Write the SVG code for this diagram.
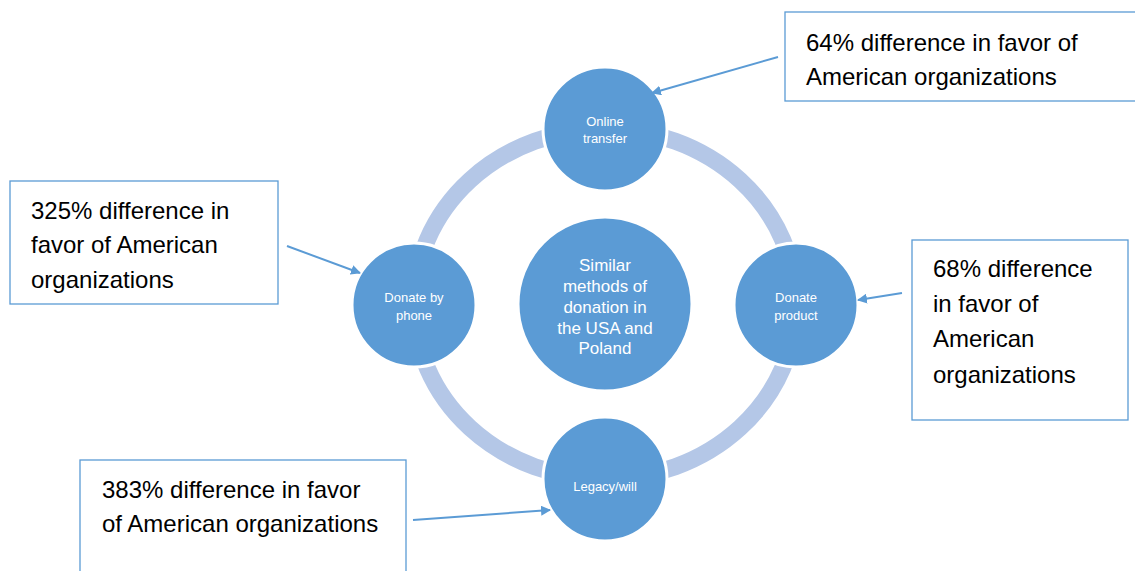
<svg xmlns="http://www.w3.org/2000/svg" width="1135" height="571" viewBox="0 0 1135 571">
  <defs>
    <marker id="arrow" markerWidth="10" markerHeight="10" refX="9" refY="5" orient="auto" markerUnits="userSpaceOnUse" viewBox="0 0 10 10">
      <path d="M0,0 L10,5 L0,10 Z" fill="#5b9bd5"/>
    </marker>
    <style>
      .node { fill: #5b9bd5; stroke: #ffffff; stroke-width: 3; }
      .ring { fill: none; stroke: #b4c7e7; stroke-width: 17; }
      .ntext { fill: #ffffff; font-family: "Liberation Sans", "Noto Sans", sans-serif; font-size: 13px; text-anchor: middle; }
      .ctext { fill: #ffffff; font-family: "Liberation Sans", "Noto Sans", sans-serif; font-size: 17px; text-anchor: middle; }
      .box { fill: #ffffff; stroke: #5b9bd5; stroke-width: 1.3; }
      .btext { fill: #000000; font-family: "Liberation Sans", "Noto Sans", sans-serif; font-size: 24px; }
      .conn { stroke: #5b9bd5; stroke-width: 2; fill: none; marker-end: url(#arrow); }
    </style>
  </defs>
  <rect width="1135" height="571" fill="#ffffff"/>

  <!-- cycle ring behind the nodes -->
  <ellipse class="ring" cx="605" cy="304" rx="191" ry="175"/>

  <g id="center">
    <circle class="node" cx="605" cy="304" r="87"/>
    <text class="ctext" x="605" y="271">Similar</text>
    <text class="ctext" x="605" y="292">methods of</text>
    <text class="ctext" x="605" y="313">donation in</text>
    <text class="ctext" x="605" y="334">the USA and</text>
    <text class="ctext" x="605" y="354">Poland</text>
  </g>

  <g id="online-transfer">
    <circle class="node" cx="605" cy="129" r="62"/>
    <text class="ntext" x="605" y="126">Online</text>
    <text class="ntext" x="605" y="143">transfer</text>
  </g>

  <g id="donate-phone">
    <circle class="node" cx="414" cy="305" r="62"/>
    <text class="ntext" x="414" y="302">Donate by</text>
    <text class="ntext" x="414" y="320">phone</text>
  </g>

  <g id="donate-product">
    <circle class="node" cx="796" cy="305" r="62"/>
    <text class="ntext" x="796" y="302">Donate</text>
    <text class="ntext" x="796" y="320">product</text>
  </g>

  <g id="legacy-will">
    <circle class="node" cx="605" cy="479" r="62"/>
    <text class="ntext" x="605" y="491">Legacy/will</text>
  </g>

  <g id="note-online">
    <rect class="box" x="785" y="12" width="360" height="89"/>
    <text class="btext" x="806" y="51">64% difference in favor of</text>
    <text class="btext" x="806" y="85">American organizations</text>
  </g>

  <g id="note-phone">
    <rect class="box" x="10" y="181" width="268" height="123"/>
    <text class="btext" x="31" y="219">325% difference in</text>
    <text class="btext" x="31" y="253">favor of American</text>
    <text class="btext" x="31" y="288">organizations</text>
  </g>

  <g id="note-product">
    <rect class="box" x="912" y="240" width="216" height="180"/>
    <text class="btext" x="933" y="277">68% difference</text>
    <text class="btext" x="933" y="312">in favor of</text>
    <text class="btext" x="933" y="347">American</text>
    <text class="btext" x="933" y="383">organizations</text>
  </g>

  <g id="note-legacy">
    <rect class="box" x="80" y="460" width="326" height="130"/>
    <text class="btext" x="102" y="498">383% difference in favor</text>
    <text class="btext" x="102" y="532">of American organizations</text>
  </g>

  <g id="connectors">
    <line class="conn" x1="778" y1="57" x2="652" y2="93"/>
    <line class="conn" x1="287" y1="246" x2="360" y2="273"/>
    <line class="conn" x1="902" y1="293" x2="858" y2="300"/>
    <line class="conn" x1="413" y1="520" x2="550" y2="510"/>
  </g>
</svg>
